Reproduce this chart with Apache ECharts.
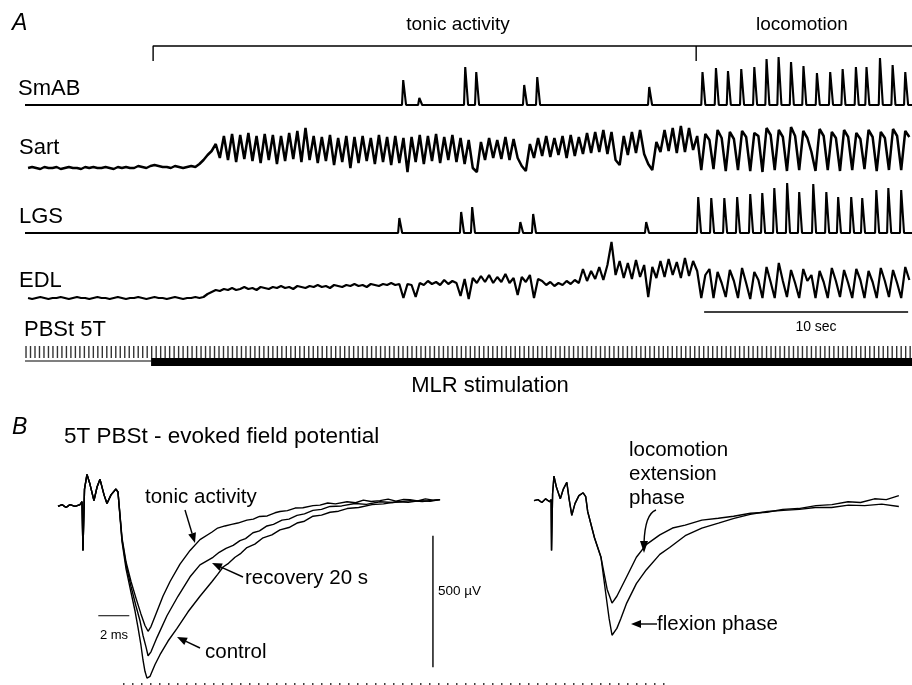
<!DOCTYPE html>
<html>
<head>
<meta charset="utf-8">
<script src="https://cdn.jsdelivr.net/npm/echarts@6/dist/echarts.min.js"></script>
<style>
html, body { margin: 0; padding: 0; background: #fff; }
#chart { width: 912px; height: 685px; }
</style>
</head>
<body>
<div id="chart"></div>
<script>
"use strict";
// ---- panel A : EMG records, time in s ----
var sampleStep = 0.2; // s between samples of the continuous traces

// Sart (amplitude, arbitrary units)
var sartTrace = [
    12,13,12,11,13,12,12,13,11,12,13,12,12,11,13,12,13,12,12,13,12,11,13,12,13,12,12,14,13,12,14,15,14,13,13,12,14,13,12,13,14,13,
    16,20,25,29,
    36,22,44,20,46,18,45,21,47,19,
    44,17,46,20,45,16,44,19,47,21,
    49,18,52,20,44,17,43,19,45,15,
    42,18,44,12,43,17,44,19,42,16,
    45,18,43,15,44,17,42,8,43,18,
    45,16,44,19,46,17,43,20,45,18,
    42,16,40,12,8,38,20,42,22,40,
    21,43,20,41,22,14,9,36,22,42,
    24,44,23,42,25,44,22,45,24,43,
    26,47,27,48,28,50,26,48,20,15,
    44,25,48,27,50,26,16,10,38,28,
    50,29,52,27,54,28,52,30,
    44,10,46,40,11,50,42,9,48,41,
    10,49,43,9,47,44,8,52,45,10,
    50,43,9,53,44,10,49,42,28,9,
    51,44,10,48,42,9,50,43,10,47,
    41,11,50,43,9,48,42,10,51,44,
    10,49,43
];

// EDL
var edlTrace = [
    7,6,7,8,7,6,7,7,8,7,6,7,8,7,7,6,7,8,7,7,6,7,8,7,6,7,7,8,7,6,7,8,7,7,6,7,8,7,6,7,7,8,7,8,
    11,13,15,14,16,15,17,15,16,18,16,17,15,18,17,16,18,17,19,17,18,16,19,18,17,19,18,20,18,19,17,20,19,18,20,19,21,19,20,18,21,20,19,21,20,22,20,21,
    7,21,20,8,22,20,24,21,23,20,25,21,24,22,
    9,26,6,27,22,29,23,30,22,28,23,31,22,27,10,28,23,30,7,26,
    24,20,23,19,22,20,24,21,25,22,36,24,34,26,38,25,40,63,30,44,
    27,42,26,45,28,40,8,38,27,44,28,46,30,43,27,47,29,44,
    34,7,30,36,7,33,22,8,35,24,7,37,22,6,33,25,7,38,23,7,
    42,24,8,35,22,7,36,24,30,7,34,23,7,37,24,8,35,22,7,36,
    25,7,34,23,7,37,24,8,35,22,7,38,25
];

// SmAB bursts
var smabBase = 5;
var smabBurstT = [18.43, 19.22, 21.47, 22.01, 24.36, 25.00, 30.49,
    33.10, 33.76, 34.35, 35.00, 35.64, 36.24, 36.83, 37.44, 38.05, 38.71, 39.36, 39.97, 40.62, 41.14, 41.80, 42.42, 43.04];
var smabBurstAmp = [25, 7, 38, 33, 20, 28, 18,
    33, 37, 34, 36, 38, 46, 48, 43, 39, 32, 33, 36, 38, 38, 47, 40, 33];

// LGS bursts
var lgsBase = 7;
var lgsBurstT = [18.24, 21.27, 21.81, 24.17, 24.80, 30.34,
    32.89, 33.53, 34.17, 34.80, 35.44, 36.03, 36.62, 37.25, 37.84, 38.53, 39.17, 39.75, 40.39, 40.93, 41.62, 42.21, 42.84];
var lgsBurstAmp = [15, 21, 26, 11, 19, 11,
    36, 35, 35, 36, 39, 40, 45, 50, 41, 49, 41, 36, 36, 35, 43, 45, 43];

// stimulation
var stimPeriod = 0.22;
var stimFrom = -0.1, stimTo = 43.3;
var mlrOnset = 6.03, mlrEnd = 43.4;
var tonicStart = 6.13, locoStart = 32.75, recEnd = 43.4;
var barStart = 33.14, barLen = 10; // 10 sec

// ---- panel B : field potentials, ms / µV ----
var fpOnsetL = [[0,-22],[0.26,-15],[0.52,-26],[0.77,-15],[1.10,-22],[1.42,-15],[1.55,-4],[1.61,-189],[1.71,44],[1.87,100],[2.06,63],[2.32,0],[2.52,52],[2.71,81],[2.97,22],[3.16,-11],[3.42,22],[3.74,44],[3.87,33]];
var fpTonic = [[4.13,-141],[4.39,-233],[4.71,-307],[5.03,-370],[5.35,-430],[5.61,-474],[5.81,-496],[6.00,-478],[6.32,-430],[6.77,-363],[7.23,-307],[7.87,-241],[8.52,-189],[9.16,-148],[9.94,-119],[10.3,-104],[10.77,-96],[11.2,-90],[11.6,-85],[12.19,-74],[12.6,-70],[13.0,-60],[13.5,-58],[14.0,-46],[14.32,-41],[14.8,-38],[15.3,-28],[15.8,-27],[16.45,-19],[16.9,-17],[17.4,-9],[17.9,-12],[18.65,-4],[19.2,-8],[19.7,2],[20.2,-3],[20.77,0],[21.3,6],[21.8,-2],[22.3,5],[22.71,4],[23.2,-1],[23.7,7],[24.2,2],[24.65,4]];
var fpRecovery = [[4.13,-148],[4.39,-244],[4.71,-326],[5.03,-400],[5.29,-456],[5.48,-511],[5.68,-556],[5.81,-589],[6.00,-574],[6.39,-519],[7.03,-437],[7.74,-363],[8.52,-289],[9.16,-244],[10.00,-215],[10.4,-196],[10.84,-181],[11.3,-170],[11.74,-152],[12.1,-144],[12.58,-122],[13.0,-115],[13.48,-96],[13.9,-90],[14.45,-74],[14.9,-70],[15.42,-56],[15.9,-50],[16.45,-37],[17.0,-33],[17.55,-22],[18.3,-20],[19.16,-11],[19.9,-14],[20.77,-4],[21.6,-7],[22.71,0],[23.5,-3],[24.65,4]];
var fpControl = [[4.13,-156],[4.39,-259],[4.71,-348],[4.97,-419],[5.16,-481],[5.35,-548],[5.48,-604],[5.61,-648],[5.74,-674],[5.94,-667],[6.26,-622],[6.58,-585],[7.10,-533],[7.68,-485],[8.39,-422],[9.16,-363],[9.94,-307],[10.3,-280],[10.65,-252],[11.0,-238],[11.42,-215],[11.8,-200],[12.19,-178],[12.7,-165],[13.23,-141],[13.8,-130],[14.32,-111],[14.9,-102],[15.42,-85],[15.9,-78],[16.45,-59],[17.0,-55],[17.55,-44],[18.1,-40],[18.65,-30],[19.4,-26],[20.26,-15],[21.0,-12],[21.87,-4],[22.6,-6],[23.35,0],[24.0,-2],[24.65,4]];
var fpOnsetR = [[0,0],[0.26,4],[0.52,-7],[0.77,7],[1.03,-4],[1.13,4],[1.16,-189],[1.23,26],[1.32,93],[1.48,52],[1.74,7],[1.94,44],[2.17,70],[2.32,7],[2.50,-56],[2.71,-11],[2.97,19],[3.25,30],[3.42,15],[3.55,-41],[4.00,-141],[4.43,-215]];
var fpExtension = [[4.84,-337],[5.16,-389],[5.48,-363],[6.13,-289],[6.77,-215],[7.42,-167],[8.32,-130],[9.16,-104],[10.00,-93],[11.10,-74],[12.19,-67],[13.2,-59],[14.32,-48],[15.4,-44],[16.45,-33],[17.5,-30],[18.65,-19],[19.7,-15],[20.77,-4],[21.6,-7],[22.52,7],[23.3,4],[24.13,19]];
var fpFlexion = [[4.77,-363],[4.97,-448],[5.16,-511],[5.48,-485],[5.74,-448],[6.13,-389],[6.77,-315],[7.42,-263],[8.32,-204],[8.97,-178],[10.00,-133],[11.10,-104],[12.2,-85],[13.23,-67],[14.3,-52],[15.42,-41],[16.5,-37],[17.55,-33],[18.6,-26],[19.68,-26],[20.8,-17],[21.87,-19],[23.0,-13],[24.13,-22]];
var barMs = 2, barUv = 500;

var FONT = '"Liberation Sans", Arial, sans-serif';

function sampled(values) {
    return values.map(function (v, i) { return [i * sampleStep, v]; });
}
function burstTrace(base, times, amps) {
    var pts = [[-0.15, base]];
    for (var k = 0; k < times.length; k++) {
        var t = times[k];
        pts.push([t - 0.1, base], [t - 0.04, base + amps[k]], [t + 0.04, base + amps[k]], [t + 0.1, base]);
    }
    pts.push([recEnd, base]);
    return pts;
}
function stimTimes() {
    var out = [];
    for (var t = stimFrom; t <= stimTo; t += stimPeriod) out.push([t, 18]);
    return out;
}
function line(data, xi, w, extra) {
    var s = {
        type: 'line', data: data, xAxisIndex: xi, yAxisIndex: xi,
        symbol: 'none', silent: true, animation: false,
        lineStyle: { color: '#000', width: w, join: 'bevel' }
    };
    return Object.assign(s, extra || {});
}
function txt(text, x, y, size, align, italic) {
    return {
        type: 'text', x: x, y: y, silent: true,
        style: {
            text: text, fill: '#000', fontSize: size, fontFamily: FONT,
            fontStyle: italic ? 'italic' : 'normal',
            align: align || 'left', textAlign: align || 'left',
            verticalAlign: 'middle', textVerticalAlign: 'middle'
        }
    };
}
function arrow(x1, y1, x2, y2) {
    var a = Math.atan2(y2 - y1, x2 - x1), L = 10, W = 4;
    var bx = x2 - L * Math.cos(a), by = y2 - L * Math.sin(a);
    return [
        { type: 'line', silent: true, shape: { x1: x1, y1: y1, x2: bx, y2: by }, style: { stroke: '#000', lineWidth: 1.4 } },
        { type: 'polygon', silent: true, shape: { points: [[x2, y2], [bx - W * Math.sin(a), by + W * Math.cos(a)], [bx + W * Math.sin(a), by - W * Math.cos(a)]] }, style: { fill: '#000' } }
    ];
}

function main() {
    var chart = echarts.init(document.getElementById('chart'));
    var grids = [
        { left: 25, width: 887, top: 50, height: 60 },   // SmAB
        { left: 25, width: 887, top: 120, height: 60 },  // Sart
        { left: 25, width: 887, top: 175, height: 65 },  // LGS
        { left: 25, width: 887, top: 235, height: 70 },  // EDL
        { left: 25, width: 887, top: 345, height: 25 },  // stim
        { left: 25, width: 887, top: 40, height: 25 },   // brackets
        { left: 25, width: 887, top: 300, height: 20 },  // 10 sec
        { left: 58, width: 387.5, top: 448, height: 243 },  // B left
        { left: 534, width: 387.5, top: 448, height: 243 }  // B right
    ];
    var yMax = [60, 60, 65, 70, 25, 25, 20];
    var xAxes = [], yAxes = [];
    for (var i = 0; i < grids.length; i++) {
        if (i < 7) {
            xAxes.push({ gridIndex: i, type: 'value', min: -0.15, max: 43.33, show: false });
            yAxes.push({ gridIndex: i, type: 'value', min: 0, max: yMax[i], show: false });
        } else {
            xAxes.push({ gridIndex: i, type: 'value', min: 0, max: 25, show: false });
            yAxes.push({ gridIndex: i, type: 'value', min: -700, max: 200, show: false });
        }
    }

    var series = [
        line(burstTrace(smabBase, smabBurstT, smabBurstAmp), 0, 2.1),
        line(sampled(sartTrace), 1, 2.5),
        line(burstTrace(lgsBase, lgsBurstT, lgsBurstAmp), 2, 2.1),
        line(sampled(edlTrace), 3, 2.2),
        {
            type: 'scatter', xAxisIndex: 4, yAxisIndex: 4, data: stimTimes(), silent: true, animation: false,
            symbol: 'rect', symbolSize: [1.4, 12], itemStyle: { color: '#000' }
        },
        line([[-0.15, 9], [mlrOnset, 9]], 4, 1.2),
        line([[mlrOnset, 8], [mlrEnd, 8]], 4, 8, { lineStyle: { color: '#000', width: 8, cap: 'butt' } }),
        line([[tonicStart, 4], [tonicStart, 19], [locoStart, 19], [locoStart, 4], [locoStart, 19], [recEnd, 19]], 5, 1.4),
        line([[barStart, 8], [barStart + barLen, 8]], 6, 1.3),
        line(fpOnsetL.concat(fpTonic), 7, 1.4),
        line(fpOnsetL.concat(fpRecovery), 7, 1.4),
        line(fpOnsetL.concat(fpControl), 7, 1.4),
        line([[2.6, -437], [2.6 + barMs, -437]], 7, 1),
        line([[24.19, -133], [24.19, -133 - barUv]], 7, 1.4),
        line(fpOnsetR.concat(fpExtension), 8, 1.4),
        line(fpOnsetR.concat(fpFlexion), 8, 1.4)
    ];

    var g = [
        txt('A', 12, 24, 23, 'left', true),
        txt('tonic activity', 458, 25, 19, 'center'),
        txt('locomotion', 802, 25, 19, 'center'),
        txt('SmAB', 18, 89, 22),
        txt('Sart', 19, 148, 22),
        txt('LGS', 19, 217, 22),
        txt('EDL', 19, 281, 22),
        txt('PBSt 5T', 24, 330, 22),
        txt('10 sec', 816, 327, 14, 'center'),
        txt('MLR stimulation', 490, 386, 22, 'center'),
        txt('B', 12, 428, 23, 'left', true),
        txt('5T PBSt - evoked field potential', 64, 437, 22.5),
        txt('tonic activity', 145, 497, 20.5),
        txt('recovery 20 s', 245, 578, 20.5),
        txt('control', 205, 652, 20.5),
        txt('2 ms', 114, 635, 13, 'center'),
        txt('500 µV', 438, 591, 13.5),
        txt('locomotion', 629, 450, 20.5),
        txt('extension', 629, 474, 20.5),
        txt('phase', 629, 498, 20.5),
        txt('flexion phase', 657, 624, 20.5),
        { type: 'line', silent: true, shape: { x1: 123, y1: 684, x2: 666, y2: 684 }, style: { stroke: '#000', lineWidth: 1.5, lineDash: [1.5, 7.5] } },
        { type: 'bezierCurve', silent: true, shape: { x1: 656, y1: 510, cpx1: 645, cpy1: 514, x2: 644, y2: 543 }, style: { stroke: '#000', lineWidth: 1.4, fill: null } },
        { type: 'polygon', silent: true, shape: { points: [[644, 553], [640, 541], [648, 541]] }, style: { fill: '#000' } }
    ];
    g = g.concat(arrow(185, 510, 195, 543), arrow(243, 577, 212, 563), arrow(200, 648, 177, 637), arrow(657, 624, 631, 624));

    chart.setOption({
        animation: false,
        backgroundColor: '#fff',
        grid: grids,
        xAxis: xAxes,
        yAxis: yAxes,
        series: series,
        graphic: { elements: g }
    });
}
main();
</script>
</body>
</html>
